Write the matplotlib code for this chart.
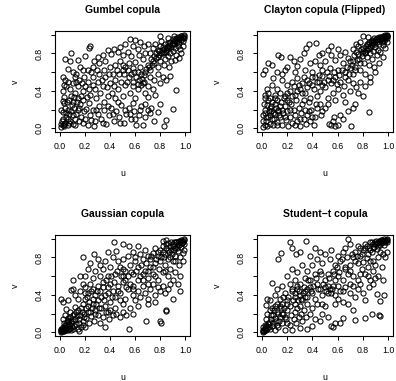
import numpy as np
import matplotlib
matplotlib.use("Agg")
import matplotlib.pyplot as plt

plt.rcParams['font.family'] = ['Liberation Sans', 'DejaVu Sans']

# (u, v) pairs, one list per copula
gumbel = [
    (0.99,0.99),(0.98,0.98),(0.97,0.99),(0.96,0.97),(0.99,0.96),(0.95,0.95),(0.94,0.98),(0.93,0.96),(0.97,0.94),(0.92,0.93),
    (0.90,0.95),(0.91,0.90),(0.88,0.92),(0.87,0.89),(0.95,0.91),(0.98,0.93),(0.86,0.86),(0.89,0.87),(0.84,0.90),(0.83,0.85),
    (0.85,0.82),(0.88,0.80),(0.92,0.86),(0.94,0.88),(0.80,0.88),(0.78,0.84),(0.82,0.80),(0.79,0.78),(0.86,0.77),(0.90,0.83),
    (0.96,0.85),(0.97,0.80),(0.93,0.78),(0.81,0.93),(0.76,0.90),(0.74,0.86),(0.72,0.81),(0.77,0.75),(0.80,0.72),(0.84,0.74),
    (0.89,0.72),(0.92,0.73),(0.95,0.75),(0.87,0.66),(0.83,0.68),(0.78,0.66),(0.75,0.70),(0.73,0.74),(0.98,0.88),(0.91,0.99),
    (0.86,0.97),(0.80,0.99),
    (0.56,0.95),(0.60,0.94),(0.64,0.92),(0.58,0.88),(0.52,0.90),(0.48,0.87),(0.62,0.85),(0.67,0.88),(0.70,0.90),(0.54,0.82),
    (0.50,0.78),(0.46,0.82),(0.43,0.85),(0.41,0.79),(0.57,0.77),(0.63,0.78),(0.68,0.80),(0.66,0.74),(0.60,0.71),(0.55,0.70),
    (0.52,0.66),(0.48,0.72),(0.44,0.68),(0.58,0.64),(0.64,0.66),(0.70,0.68),(0.72,0.62),(0.68,0.60),(0.62,0.60),(0.50,0.62),
    (0.40,0.66),(0.36,0.72),(0.38,0.84),(0.34,0.78),(0.31,0.70),(0.30,0.76),(0.27,0.72),(0.26,0.66),(0.22,0.62),(0.24,0.88),
    (0.23,0.86),(0.09,0.80),(0.04,0.74),(0.08,0.72),(0.14,0.73),(0.20,0.77),(0.18,0.62),(0.13,0.58),(0.16,0.65),(0.06,0.63),
    (0.10,0.60),(0.12,0.55),(0.02,0.55),(0.04,0.52),
    (0.66,0.48),(0.67,0.50),(0.65,0.46),(0.70,0.45),(0.72,0.55),(0.75,0.52),(0.78,0.58),(0.82,0.55),(0.85,0.52),(0.88,0.56),
    (0.80,0.48),(0.74,0.42),(0.68,0.38),(0.62,0.42),(0.58,0.50),(0.55,0.55),(0.52,0.46),(0.56,0.38),(0.60,0.32),(0.50,0.35),
    (0.46,0.42),(0.44,0.52),(0.40,0.48),(0.42,0.58),(0.36,0.55),(0.34,0.45),(0.30,0.50),(0.28,0.42),(0.32,0.38),(0.26,0.55),
    (0.22,0.50),(0.20,0.45),(0.18,0.40),(0.24,0.36),(0.15,0.52),(0.10,0.48),(0.08,0.42),(0.12,0.38),(0.05,0.45),(0.02,0.40),
    (0.03,0.33),(0.07,0.30),(0.14,0.32),(0.93,0.41),(0.38,0.35),(0.44,0.32),(0.70,0.33),(0.76,0.36),
    (0.01,0.01),(0.02,0.03),(0.03,0.02),(0.01,0.05),(0.04,0.06),(0.02,0.10),(0.05,0.12),(0.06,0.04),(0.08,0.08),(0.07,0.15),
    (0.10,0.05),(0.12,0.10),(0.09,0.18),(0.11,0.22),(0.13,0.15),(0.15,0.08),(0.17,0.12),(0.14,0.20),(0.16,0.26),(0.19,0.18),
    (0.20,0.10),(0.22,0.04),(0.24,0.14),(0.26,0.20),(0.28,0.08),(0.30,0.15),(0.31,0.24),(0.33,0.10),(0.35,0.20),(0.37,0.05),
    (0.39,0.14),(0.41,0.22),(0.43,0.08),(0.45,0.18),(0.47,0.12),(0.49,0.25),(0.51,0.06),(0.53,0.15),(0.55,0.22),(0.57,0.10),
    (0.59,0.18),(0.61,0.04),(0.63,0.14),(0.65,0.24),(0.66,0.03),(0.68,0.12),(0.70,0.20),(0.72,0.16),(0.75,0.08),(0.78,0.17),
    (0.80,0.26),(0.83,0.02),(0.85,0.09),(0.90,0.21),(0.04,0.22),(0.03,0.27),(0.06,0.20),(0.10,0.28),(0.18,0.30),(0.23,0.27),
    (0.27,0.02),(0.21,0.21),(0.12,0.03),(0.35,0.28),(0.46,0.28),(0.58,0.27),
    (0.995,0.995),(0.985,0.97),(0.965,0.985),(0.955,0.96),(0.945,0.94),(0.935,0.92),(0.925,0.95),(0.915,0.93),(0.905,0.91),(0.895,0.90),
    (0.875,0.88),(0.865,0.91),(0.855,0.87),(0.845,0.84),(0.835,0.82),(0.825,0.87),(0.815,0.84),(0.805,0.80),(0.795,0.83),(0.785,0.76),
    (0.765,0.80),(0.755,0.77),(0.745,0.72),(0.735,0.68),(0.71,0.65),(0.69,0.63),(0.67,0.57),(0.655,0.53),(0.645,0.58),(0.635,0.52),
    (0.625,0.47),(0.61,0.55),(0.595,0.60),(0.585,0.45),(0.57,0.58),(0.545,0.62),(0.535,0.50),(0.515,0.58),(0.505,0.68),(0.49,0.50),
    (0.475,0.58),(0.455,0.62),(0.435,0.45),(0.415,0.38),(0.395,0.58),(0.375,0.44),(0.355,0.62),(0.335,0.52),(0.315,0.58),(0.295,0.62),
    (0.285,0.32),(0.265,0.46),(0.245,0.60),(0.235,0.42),(0.215,0.33),(0.195,0.55),(0.175,0.48),(0.165,0.35),(0.145,0.45),(0.135,0.28),
    (0.125,0.50),(0.115,0.33),(0.105,0.14),(0.095,0.25),(0.085,0.35),(0.075,0.06),(0.065,0.10),(0.055,0.28),(0.045,0.16),(0.035,0.05),
    (0.025,0.17),(0.015,0.08),(0.01,0.20),(0.02,0.29),(0.03,0.46),(0.06,0.50),(0.15,0.22),(0.18,0.06),(0.25,0.09),(0.29,0.19),
    (0.34,0.06),(0.38,0.24),(0.42,0.15),(0.48,0.06),(0.52,0.20),(0.56,0.15),(0.60,0.10),(0.64,0.20),(0.68,0.26),(0.73,0.22),
]

clayton = [
    (0.99,0.99),(0.98,1.00),(0.97,0.98),(0.99,0.97),(0.96,0.99),(0.95,0.97),(0.98,0.95),(0.94,0.96),(0.93,0.98),(0.97,0.93),
    (0.92,0.95),(0.91,0.97),(0.95,0.92),(0.90,0.93),(0.93,0.90),(0.89,0.96),(0.88,0.91),(0.96,0.89),(0.87,0.94),(0.86,0.88),
    (0.90,0.87),(0.92,0.84),(0.85,0.92),(0.84,0.86),(0.88,0.83),(0.83,0.90),(0.82,0.82),(0.86,0.80),(0.94,0.82),(0.98,0.86),
    (0.80,0.86),(0.78,0.92),(0.76,0.88),(0.79,0.80),(0.83,0.76),(0.87,0.74),(0.91,0.78),(0.75,0.82),(0.73,0.78),(0.77,0.74),
    (0.81,0.70),(0.85,0.68),(0.89,0.65),(0.93,0.70),(0.96,0.76),(0.99,0.92),(0.72,0.85),(0.70,0.72),(0.74,0.66),(0.78,0.62),
    (0.82,0.58),(0.86,0.55),(0.90,0.60),(0.80,0.99),(0.84,0.98),
    (0.43,0.91),(0.37,0.90),(0.35,0.86),(0.55,0.88),(0.60,0.85),(0.52,0.84),(0.48,0.80),(0.45,0.78),(0.62,0.78),(0.66,0.82),
    (0.68,0.75),(0.64,0.70),(0.58,0.73),(0.55,0.78),(0.50,0.72),(0.46,0.68),(0.42,0.72),(0.38,0.70),(0.33,0.80),(0.30,0.74),
    (0.28,0.67),(0.25,0.72),(0.22,0.76),(0.20,0.66),(0.13,0.78),(0.15,0.76),(0.05,0.70),(0.08,0.68),(0.02,0.62),(0.01,0.58),
    (0.09,0.54),(0.12,0.60),(0.16,0.58),(0.18,0.62),(0.26,0.60),(0.34,0.62),(0.40,0.60),(0.48,0.62),(0.54,0.64),(0.60,0.62),
    (0.66,0.60),(0.72,0.58),(0.70,0.64),
    (0.42,0.55),(0.45,0.50),(0.48,0.56),(0.52,0.52),(0.55,0.48),(0.58,0.55),(0.62,0.50),(0.65,0.45),(0.68,0.52),(0.72,0.48),
    (0.75,0.44),(0.78,0.50),(0.82,0.45),(0.86,0.50),(0.80,0.34),(0.76,0.38),(0.70,0.40),(0.64,0.36),(0.60,0.42),(0.56,0.38),
    (0.50,0.44),(0.46,0.40),(0.40,0.46),(0.36,0.52),(0.32,0.48),(0.28,0.54),(0.24,0.50),(0.20,0.46),(0.16,0.52),(0.12,0.42),
    (0.08,0.46),(0.04,0.42),(0.02,0.36),(0.06,0.32),(0.10,0.36),(0.14,0.38),(0.18,0.34),(0.22,0.40),(0.26,0.36),(0.30,0.42),
    (0.34,0.38),(0.38,0.32),(0.44,0.34),(0.52,0.32),(0.58,0.30),(0.66,0.28),(0.72,0.22),(0.74,0.26),(0.68,0.18),(0.85,0.17),
    (0.71,0.02),
    (0.01,0.01),(0.02,0.04),(0.04,0.02),(0.03,0.08),(0.01,0.14),(0.05,0.12),(0.06,0.05),(0.08,0.10),(0.07,0.18),(0.09,0.03),
    (0.10,0.15),(0.11,0.22),(0.12,0.07),(0.13,0.20),(0.14,0.12),(0.15,0.28),(0.16,0.04),(0.17,0.16),(0.18,0.24),(0.19,0.09),
    (0.20,0.18),(0.21,0.02),(0.22,0.12),(0.23,0.26),(0.24,0.06),(0.25,0.20),(0.26,0.14),(0.27,0.30),(0.28,0.08),(0.29,0.22),
    (0.30,0.02),(0.31,0.16),(0.32,0.26),(0.33,0.10),(0.34,0.20),(0.35,0.05),(0.36,0.14),(0.37,0.28),(0.38,0.08),(0.39,0.20),
    (0.41,0.03),(0.42,0.12),(0.44,0.22),(0.46,0.26),(0.48,0.18),(0.50,0.22),(0.53,0.05),(0.55,0.03),(0.57,0.12),(0.58,0.02),
    (0.60,0.04),(0.62,0.14),(0.64,0.10),(0.04,0.25),(0.02,0.20),(0.08,0.28),(0.12,0.30),(0.06,0.22),(0.20,0.30),
    (0.995,0.995),(0.99,0.985),(0.985,0.99),(0.975,0.975),(0.97,0.96),(0.965,0.975),(0.955,0.95),(0.945,0.98),(0.935,0.94),(0.925,0.96),
    (0.915,0.92),(0.905,0.95),(0.895,0.90),(0.885,0.93),(0.875,0.89),(0.865,0.92),(0.855,0.86),(0.845,0.90),(0.835,0.84),(0.825,0.88),
    (0.815,0.80),(0.805,0.83),(0.795,0.77),(0.785,0.85),(0.775,0.70),(0.765,0.79),(0.755,0.73),(0.745,0.90),(0.735,0.62),(0.725,0.72),
    (0.715,0.68),(0.69,0.58),(0.675,0.66),(0.655,0.55),(0.635,0.62),(0.615,0.57),(0.595,0.47),(0.575,0.60),(0.565,0.52),(0.535,0.56),
    (0.515,0.60),(0.495,0.50),(0.475,0.46),(0.455,0.57),(0.435,0.50),(0.415,0.42),(0.395,0.55),(0.375,0.48),(0.355,0.44),(0.335,0.55),
    (0.315,0.38),(0.295,0.46),(0.275,0.40),(0.255,0.45),(0.235,0.34),(0.215,0.28),(0.195,0.38),(0.175,0.32),(0.155,0.20),(0.145,0.24),
    (0.135,0.14),(0.125,0.18),(0.115,0.04),(0.105,0.26),(0.095,0.10),(0.085,0.16),(0.075,0.24),(0.065,0.14),(0.055,0.18),(0.045,0.30),
    (0.035,0.12),(0.025,0.16),(0.015,0.26),(0.01,0.08),(0.02,0.32),(0.05,0.38),(0.10,0.32),(0.18,0.12),(0.22,0.20),(0.26,0.04),
    (0.30,0.10),(0.33,0.30),(0.37,0.18),(0.40,0.12),(0.43,0.26),(0.47,0.14),(0.52,0.26),(0.56,0.08),
]

gaussian = [
    (0.99,0.99),(0.98,0.97),(0.97,0.99),(0.96,0.96),(0.99,0.94),(0.95,0.98),(0.94,0.93),(0.93,0.96),(0.97,0.91),(0.92,0.90),
    (0.90,0.94),(0.91,0.97),(0.88,0.92),(0.89,0.88),(0.86,0.95),(0.85,0.90),(0.87,0.86),(0.94,0.87),(0.98,0.85),(0.96,0.81),
    (0.92,0.82),(0.84,0.84),(0.82,0.92),(0.80,0.88),(0.83,0.80),(0.86,0.78),(0.90,0.76),(0.95,0.72),(0.98,0.76),(0.78,0.82),
    (0.76,0.90),(0.74,0.85),(0.80,0.76),(0.84,0.72),(0.88,0.68),(0.92,0.64),(0.96,0.60),(0.72,0.78),(0.76,0.74),(0.79,0.68),
    (0.82,0.64),(0.86,0.60),(0.90,0.56),(0.94,0.52),(0.99,0.88),(0.82,0.98),(0.85,0.99),
    (0.43,0.97),(0.50,0.94),(0.55,0.92),(0.62,0.92),(0.38,0.86),(0.45,0.87),(0.27,0.84),(0.18,0.81),(0.58,0.86),(0.64,0.84),
    (0.68,0.88),(0.70,0.82),(0.66,0.78),(0.60,0.80),(0.54,0.82),(0.50,0.78),(0.46,0.76),(0.42,0.80),(0.36,0.76),(0.32,0.72),
    (0.30,0.78),(0.24,0.74),(0.22,0.68),(0.28,0.66),(0.34,0.68),(0.40,0.70),(0.48,0.70),(0.52,0.66),(0.56,0.72),(0.62,0.70),
    (0.68,0.66),(0.72,0.70),(0.74,0.62),(0.70,0.58),(0.64,0.60),(0.58,0.62),(0.50,0.60),(0.44,0.62),(0.38,0.60),(0.32,0.60),
    (0.26,0.58),(0.20,0.60),(0.16,0.60),(0.18,0.52),(0.10,0.56),(0.52,0.56),
    (0.09,0.45),(0.10,0.46),(0.12,0.40),(0.14,0.36),(0.16,0.44),(0.20,0.48),(0.22,0.42),(0.24,0.52),(0.26,0.46),(0.28,0.40),
    (0.30,0.50),(0.32,0.44),(0.34,0.54),(0.36,0.40),(0.38,0.48),(0.40,0.52),(0.42,0.44),(0.44,0.38),(0.46,0.50),(0.48,0.42),
    (0.50,0.54),(0.52,0.36),(0.54,0.46),(0.56,0.52),(0.58,0.40),(0.60,0.34),(0.62,0.44),(0.64,0.38),(0.66,0.50),(0.68,0.42),
    (0.70,0.36),(0.72,0.46),(0.74,0.52),(0.76,0.40),(0.78,0.48),(0.80,0.44),(0.82,0.50),(0.84,0.42),(0.86,0.46),(0.88,0.52),
    (0.90,0.36),(0.96,0.44),(0.78,0.56),(0.70,0.52),(0.02,0.32),(0.01,0.36),(0.06,0.34),(0.20,0.36),(0.30,0.34),(0.40,0.32),
    (0.50,0.30),(0.56,0.26),(0.62,0.28),(0.70,0.30),(0.76,0.32),(0.44,0.26),(0.36,0.28),(0.26,0.30),
    (0.01,0.01),(0.02,0.02),(0.01,0.04),(0.03,0.01),(0.02,0.06),(0.04,0.03),(0.05,0.08),(0.03,0.10),(0.06,0.02),(0.07,0.12),
    (0.08,0.05),(0.06,0.15),(0.09,0.10),(0.10,0.18),(0.11,0.07),(0.12,0.14),(0.13,0.22),(0.14,0.03),(0.15,0.10),(0.16,0.18),
    (0.17,0.26),(0.18,0.12),(0.19,0.20),(0.20,0.06),(0.21,0.15),(0.22,0.28),(0.23,0.10),(0.24,0.22),(0.25,0.17),(0.27,0.12),
    (0.28,0.24),(0.30,0.18),(0.32,0.10),(0.33,0.26),(0.34,0.16),(0.36,0.06),(0.37,0.22),(0.39,0.14),(0.40,0.24),(0.42,0.18),
    (0.45,0.20),(0.48,0.16),(0.50,0.22),(0.55,0.04),(0.53,0.18),(0.58,0.20),(0.69,0.12),(0.80,0.12),(0.81,0.10),(0.85,0.23),
    (0.85,0.24),(0.04,0.18),(0.08,0.22),(0.02,0.14),(0.05,0.25),(0.12,0.27),(0.15,0.01),(0.09,0.02),
    (0.005,0.005),(0.01,0.02),(0.015,0.01),(0.02,0.035),(0.025,0.015),(0.03,0.05),(0.035,0.03),(0.04,0.08),(0.045,0.05),(0.05,0.02),
    (0.055,0.11),(0.06,0.07),(0.065,0.13),(0.07,0.04),(0.075,0.09),(0.08,0.16),(0.085,0.12),(0.095,0.06),(0.105,0.12),(0.115,0.20),
    (0.125,0.09),(0.135,0.17),(0.145,0.24),(0.155,0.14),(0.165,0.06),(0.175,0.22),(0.185,0.30),(0.195,0.16),(0.205,0.26),(0.215,0.38),
    (0.225,0.22),(0.235,0.32),(0.245,0.44),(0.255,0.26),(0.265,0.36),(0.285,0.30),(0.295,0.44),(0.31,0.26),(0.325,0.38),(0.345,0.48),
    (0.355,0.34),(0.37,0.56),(0.385,0.42),(0.405,0.60),(0.415,0.38),(0.435,0.54),(0.455,0.66),(0.465,0.44),(0.485,0.60),(0.505,0.68),
    (0.525,0.48),(0.545,0.60),(0.565,0.64),(0.585,0.50),(0.605,0.66),(0.625,0.56),(0.645,0.72),(0.665,0.62),(0.685,0.74),(0.705,0.66),
    (0.725,0.82),(0.745,0.70),(0.765,0.78),(0.785,0.86),(0.805,0.80),(0.825,0.86),(0.845,0.94),(0.865,0.88),(0.885,0.96),(0.895,0.84),
    (0.905,0.92),(0.915,0.88),(0.925,0.97),(0.935,0.90),(0.945,0.96),(0.955,0.93),(0.965,0.98),(0.975,0.95),(0.985,0.98),(0.995,0.995),
    (0.88,0.80),(0.92,0.76),(0.84,0.66),(0.76,0.60),(0.66,0.56),(0.58,0.46),(0.48,0.34),(0.38,0.22),(0.28,0.20),(0.18,0.08),
    (0.10,0.03),(0.20,0.42),(0.60,0.76),
]

student_t = [
    (0.99,0.99),(0.98,0.98),(0.97,1.00),(0.96,0.97),(0.99,0.96),(0.95,0.99),(0.94,0.95),(0.93,0.98),(0.97,0.93),(0.92,0.92),
    (0.90,0.96),(0.91,0.89),(0.88,0.94),(0.89,0.91),(0.86,0.97),(0.85,0.90),(0.87,0.86),(0.94,0.86),(0.98,0.80),(0.96,0.84),
    (0.92,0.80),(0.84,0.84),(0.82,0.94),(0.80,0.88),(0.83,0.79),(0.86,0.76),(0.90,0.72),(0.95,0.70),(0.78,0.82),(0.76,0.92),
    (0.74,0.86),(0.80,0.75),(0.84,0.70),(0.88,0.66),(0.92,0.60),(0.96,0.56),(0.72,0.80),(0.76,0.74),(0.79,0.68),(0.82,0.62),
    (0.86,0.56),(0.90,0.58),(0.68,1.00),(0.70,0.94),(0.66,0.90),(0.99,0.86),
    (0.22,0.97),(0.35,0.98),(0.13,0.78),(0.15,0.85),(0.27,0.84),(0.30,0.86),(0.24,0.90),(0.38,0.82),(0.42,0.90),(0.46,0.86),
    (0.50,0.84),(0.55,0.88),(0.60,0.82),(0.64,0.86),(0.62,0.76),(0.58,0.72),(0.54,0.78),(0.48,0.74),(0.44,0.78),(0.40,0.72),
    (0.36,0.66),(0.32,0.72),(0.28,0.64),(0.24,0.68),(0.20,0.60),(0.26,0.56),(0.34,0.58),(0.42,0.62),(0.46,0.66),(0.52,0.62),
    (0.56,0.66),(0.60,0.60),(0.66,0.68),(0.70,0.72),(0.68,0.62),(0.72,0.60),(0.64,0.56),(0.58,0.56),(0.50,0.56),(0.44,0.52),
    (0.38,0.56),(0.30,0.52),(0.22,0.52),(0.16,0.50),(0.08,0.53),(0.12,0.46),
    (0.04,0.36),(0.03,0.29),(0.06,0.35),(0.10,0.40),(0.14,0.36),(0.18,0.42),(0.20,0.34),(0.24,0.44),(0.26,0.38),(0.28,0.46),
    (0.30,0.40),(0.32,0.34),(0.34,0.44),(0.36,0.38),(0.38,0.48),(0.40,0.42),(0.42,0.36),(0.46,0.46),(0.48,0.40),(0.50,0.48),
    (0.52,0.42),(0.54,0.46),(0.56,0.50),(0.58,0.40),(0.60,0.36),(0.62,0.44),(0.64,0.32),(0.66,0.48),(0.70,0.42),(0.72,0.50),
    (0.74,0.38),(0.76,0.46),(0.78,0.52),(0.80,0.42),(0.82,0.34),(0.85,0.48),(0.88,0.52),(0.91,0.41),(0.94,0.33),(0.97,0.40),
    (0.72,0.24),(0.68,0.30),(0.58,0.30),(0.50,0.28),(0.44,0.30),(0.36,0.30),(0.26,0.30),(0.16,0.30),
    (0.01,0.01),(0.02,0.03),(0.01,0.06),(0.03,0.02),(0.02,0.08),(0.04,0.05),(0.05,0.10),(0.06,0.03),(0.07,0.14),(0.08,0.07),
    (0.09,0.18),(0.10,0.02),(0.11,0.12),(0.12,0.22),(0.13,0.06),(0.14,0.16),(0.15,0.26),(0.16,0.10),(0.17,0.20),(0.18,0.02),
    (0.19,0.14),(0.20,0.24),(0.22,0.08),(0.23,0.18),(0.24,0.02),(0.25,0.14),(0.26,0.22),(0.27,0.10),(0.28,0.26),(0.29,0.16),
    (0.30,0.05),(0.31,0.20),(0.32,0.12),(0.33,0.24),(0.35,0.16),(0.36,0.04),(0.38,0.20),(0.40,0.07),(0.42,0.14),(0.46,0.12),
    (0.48,0.20),(0.52,0.16),(0.55,0.07),(0.56,0.06),(0.58,0.10),(0.62,0.10),(0.64,0.15),(0.74,0.13),(0.82,0.15),(0.87,0.20),
    (0.93,0.18),(0.94,0.17),(0.04,0.20),(0.06,0.24),(0.10,0.28),(0.03,0.14),
    (0.005,0.005),(0.01,0.02),(0.015,0.01),(0.02,0.045),(0.025,0.02),(0.03,0.07),(0.035,0.04),(0.045,0.09),(0.055,0.06),(0.065,0.11),
    (0.075,0.18),(0.085,0.10),(0.095,0.24),(0.105,0.15),(0.115,0.30),(0.125,0.20),(0.135,0.12),(0.145,0.28),(0.155,0.20),(0.165,0.38),
    (0.175,0.26),(0.185,0.16),(0.195,0.30),(0.21,0.38),(0.225,0.28),(0.235,0.46),(0.245,0.34),(0.265,0.42),(0.275,0.50),(0.285,0.34),
    (0.295,0.44),(0.31,0.36),(0.325,0.42),(0.335,0.48),(0.345,0.38),(0.355,0.46),(0.365,0.56),(0.385,0.44),(0.405,0.50),(0.425,0.58),
    (0.445,0.46),(0.465,0.62),(0.485,0.52),(0.505,0.44),(0.525,0.50),(0.535,0.58),(0.545,0.42),(0.555,0.46),(0.575,0.62),(0.595,0.70),
    (0.615,0.64),(0.635,0.78),(0.655,0.70),(0.675,0.80),(0.695,0.66),(0.715,0.84),(0.735,0.76),(0.755,0.82),(0.775,0.90),(0.795,0.84),
    (0.815,0.90),(0.835,0.92),(0.855,0.88),(0.875,0.96),(0.885,0.90),(0.895,0.94),(0.905,0.98),(0.915,0.95),(0.925,0.97),(0.935,0.93),
    (0.945,0.99),(0.955,0.96),(0.965,0.98),(0.975,0.97),(0.985,0.99),(0.995,0.995),(0.88,0.76),(0.84,0.60),(0.78,0.62),(0.70,0.52),
    (0.60,0.50),(0.48,0.30),(0.40,0.26),(0.30,0.28),(0.20,0.10),(0.12,0.08),(0.08,0.26),(0.64,0.44),(0.76,0.56),
]

titles = ["Gumbel copula", "Clayton copula (Flipped)", "Gaussian copula", "Student\u2212t copula"]
samples = [gumbel, clayton, gaussian, student_t]

W, H = 396, 381
# axes boxes in pixels: left, right, top, bottom
boxes = [(55, 190, 31, 132), (257, 393, 31, 132), (55, 190, 235, 336), (257, 393, 235, 336)]

fig = plt.figure(figsize=(W / 100, H / 100), dpi=100)
for title, pts, (l, r, t, b) in zip(titles, samples, boxes):
    ax = fig.add_axes([l / W, 1 - b / H, (r - l) / W, (b - t) / H])
    u, v = np.array(pts).T
    ax.plot(u, v, 'o', mfc='none', mec='black', ms=3.7, mew=0.75)
    ax.set_xlim(-0.04, 1.04)
    ax.set_ylim(-0.04, 1.04)
    ax.set_xticks(np.arange(0, 1.01, 0.2))
    ax.set_xticklabels(["0.0", "0.2", "0.4", "0.6", "0.8", "1.0"])
    ax.set_yticks(np.arange(0, 1.01, 0.2))
    ax.set_yticklabels(["0.0", "", "0.4", "", "0.8", ""], rotation=90, va='center')
    ax.tick_params(length=3, width=0.7, labelsize=6.3, pad=4)
    ax.tick_params(axis='y', pad=5)
    for s in ax.spines.values():
        s.set_linewidth(0.8)
    ax.set_xlabel("u", fontsize=6.3, labelpad=13)
    ax.set_ylabel("v", fontsize=6.3, labelpad=11)
    ax.set_title(title, fontsize=7.5, fontweight='bold', pad=13)

fig.savefig("out.png", dpi=100)
